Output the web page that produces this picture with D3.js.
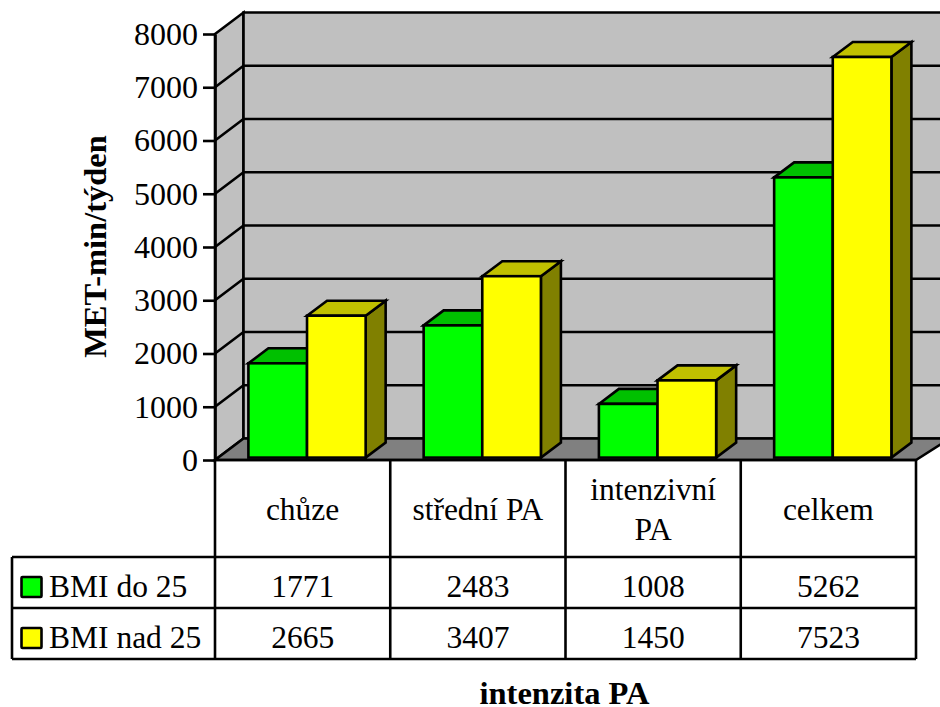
<!DOCTYPE html>
<html>
<head>
<meta charset="utf-8">
<script src="https://cdn.jsdelivr.net/npm/d3@7"></script>
<style>
html,body{margin:0;padding:0;background:#fff;overflow:hidden}
svg{display:block}
text{font-family:"Liberation Serif","Times New Roman",serif;fill:#000}
</style>
</head>
<body>
<div id="chart"></div>
<script>
// Physical activity volume by intensity and BMI group
const categories = ["chůze", "střední PA", "intenzivní PA", "celkem"];
const categoryLines = [["chůze"], ["střední PA"], ["intenzivní", "PA"], ["celkem"]];
const seriesNames = ["BMI do 25", "BMI nad 25"];
const bmiDo25 = [1771, 2483, 1008, 5262];
const bmiNad25 = [2665, 3407, 1450, 7523];
const yTicks = [0, 1000, 2000, 3000, 4000, 5000, 6000, 7000, 8000];
const yTitle = "MET-min/týden";
const xTitle = "intenzita PA";

const seriesValues = [bmiDo25, bmiNad25];
const faces = [
  { front: "#00ff00", top: "#00c000", side: "#008000" },
  { front: "#ffff00", top: "#c0c000", side: "#808000" }
];

const W = 940, H = 707;
const svg = d3.select("#chart").append("svg").attr("width", W).attr("height", H);

// Front plane of the plot and oblique projection depth
const left = 215, right = 916, base = 460, top8000 = 34;
const wallDx = 28.5, wallDy = -21.5;
const barDx = 20, barDy = -15;
const barLift = -2.4, barShift = 4.4;
const lineWidth = 2.6;

const y = d3.scaleLinear().domain([0, 8000]).range([base, top8000]);
const x = d3.scaleBand().domain(categories).range([left, right]);
const inner = d3.scaleBand().domain(seriesNames).range([29, x.bandwidth() - 29]);

const stroke = g => g.attr("stroke", "#000").attr("stroke-width", lineWidth).attr("stroke-linejoin", "miter");
const path = pts => d3.line()(pts);

// Walls and floor
const frame = svg.append("g").call(stroke);
frame.append("path")
  .attr("d", path([[left, top8000], [left + wallDx, top8000 + wallDy], [left + wallDx, base + wallDy], [left, base]]) + "Z")
  .attr("fill", "#c0c0c0");
frame.append("path")
  .attr("d", path([[left + wallDx, top8000 + wallDy], [W + 10, top8000 + wallDy], [W + 10, base + wallDy], [left + wallDx, base + wallDy]]) + "Z")
  .attr("fill", "#c0c0c0");
frame.append("path")
  .attr("d", path([[left, base], [left + wallDx, base + wallDy], [W + 10, base + wallDy], [right, base]]) + "Z")
  .attr("fill", "#808080");

// Gridlines on side and back walls
frame.selectAll("path.grid").data(yTicks.slice(1, -1)).join("path")
  .attr("class", "grid").attr("fill", "none")
  .attr("d", d => path([[left, y(d)], [left + wallDx, y(d) + wallDy], [W + 10, y(d) + wallDy]]));

// Bars as three visible faces
const groups = svg.selectAll("g.cat").data(categories).join("g")
  .attr("class", "cat")
  .attr("transform", c => `translate(${x(c) + barShift},${barLift})`);

seriesNames.forEach((name, s) => {
  const w = inner.bandwidth();
  const bar = groups.append("g").call(stroke).attr("transform", `translate(${inner(name)},0)`);
  const v = (d, c) => y(seriesValues[s][categories.indexOf(c)]);
  bar.append("path").attr("fill", faces[s].side)
    .attr("d", c => path([[w, v(0, c)], [w + barDx, v(0, c) + barDy], [w + barDx, base + barDy], [w, base]]) + "Z");
  bar.append("path").attr("fill", faces[s].top)
    .attr("d", c => path([[0, v(0, c)], [barDx, v(0, c) + barDy], [w + barDx, v(0, c) + barDy], [w, v(0, c)]]) + "Z");
  bar.append("rect").attr("fill", faces[s].front)
    .attr("x", 0).attr("width", w)
    .attr("y", c => v(0, c)).attr("height", c => base - v(0, c));
});

// Value axis
const axis = svg.append("g").attr("transform", `translate(${left},0)`)
  .call(d3.axisLeft(y).tickValues(yTicks).tickFormat(d3.format("d")).tickSize(12).tickSizeOuter(0).tickPadding(5));
axis.selectAll("path,line").attr("stroke", "#000").attr("stroke-width", lineWidth);
axis.selectAll("text").attr("font-size", 32).style("font-family", '"Liberation Serif",serif');

// Data table below the plot
const rowA = 557, rowB = 608, rowC = 659, tableLeft = 12;
const tableFont = 31.5;
const table = svg.append("g").call(stroke).attr("fill", "none");
[[left, base, left, rowC], [tableLeft, rowA, right, rowA], [tableLeft, rowB, right, rowB],
 [tableLeft, rowC, right, rowC], [tableLeft, rowA, tableLeft, rowC], [left, base, right, base]]
  .forEach(s => table.append("line").attr("x1", s[0]).attr("y1", s[1]).attr("x2", s[2]).attr("y2", s[3]));
categories.forEach(c => table.append("line")
  .attr("x1", x(c) + x.bandwidth()).attr("x2", x(c) + x.bandwidth())
  .attr("y1", base).attr("y2", rowC));

categories.forEach((c, i) => {
  const cx = x(c) + x.bandwidth() / 2;
  const lines = categoryLines[i];
  const firstY = lines.length === 1 ? 520 : 500;
  lines.forEach((t, j) => svg.append("text").attr("x", cx).attr("y", firstY + j * 40)
    .attr("text-anchor", "middle").attr("font-size", tableFont).text(t));
  seriesValues.forEach((vals, s) => svg.append("text").attr("x", cx).attr("y", 597 + s * 50.5)
    .attr("text-anchor", "middle").attr("font-size", tableFont).text(vals[i]));
});

// Legend keys in the table's first column
seriesNames.forEach((name, s) => {
  svg.append("rect").attr("x", 21.5).attr("y", 577 + s * 51).attr("width", 20).attr("height", 20)
    .attr("rx", 1).attr("fill", faces[s].front).attr("stroke", "#000").attr("stroke-width", lineWidth);
  svg.append("text").attr("x", 49).attr("y", 597 + s * 50.5).attr("font-size", tableFont).text(name);
});

// Axis titles
svg.append("text").attr("transform", "translate(106,246.5) rotate(-90)")
  .attr("text-anchor", "middle").attr("font-size", 32.5).attr("font-weight", "bold").text(yTitle);
svg.append("text").attr("x", 564.5).attr("y", 704)
  .attr("text-anchor", "middle").attr("font-size", 32.5).attr("font-weight", "bold").text(xTitle);
</script>
</body>
</html>
